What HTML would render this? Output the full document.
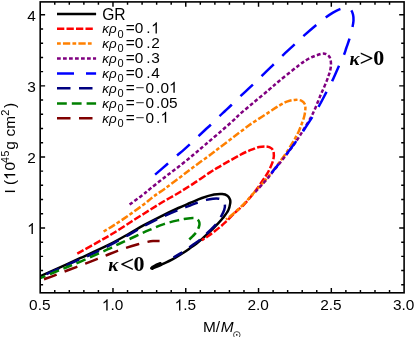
<!DOCTYPE html>
<html><head><meta charset="utf-8"><title>I vs M</title>
<style>
html,body{margin:0;padding:0;background:#fff;}
body{width:415px;height:337px;overflow:hidden;}
svg{display:block;will-change:transform;}
text{font-family:"Liberation Sans",sans-serif;fill:#000;}
.c{fill:none;stroke-width:2.5;stroke-linecap:butt;stroke-linejoin:round;}
.ser{font-family:"Liberation Serif",serif;}
.h{fill:none;}
</style></head><body>
<svg width="415" height="337" viewBox="0 0 415 337">
<rect x="0" y="0" width="415" height="337" fill="#fff"/>
<clipPath id="cp"><rect x="40.20" y="1.90" width="363.90" height="290.90"/></clipPath>
<g clip-path="url(#cp)">
<path class="c" d="M40.20 276.20 C43.50 274.72 53.37 270.30 60.00 267.30 C66.63 264.30 72.00 261.88 80.00 258.20 C88.00 254.52 99.85 249.27 108.00 245.20 C116.15 241.13 123.00 237.10 128.90 233.80 C134.80 230.50 138.22 228.23 143.40 225.40 C148.58 222.57 154.17 219.70 160.00 216.80 C165.83 213.90 173.40 210.30 178.40 208.00 C183.40 205.70 186.07 204.67 190.00 203.00 C193.93 201.33 197.98 199.40 202.00 198.00 C206.02 196.60 210.73 195.25 214.10 194.60 C217.47 193.95 219.98 193.92 222.20 194.10 C224.42 194.28 226.10 194.80 227.40 195.70 C228.70 196.60 229.53 198.22 230.00 199.50 C230.47 200.78 230.48 201.60 230.20 203.40 C229.92 205.20 229.48 207.90 228.30 210.30 C227.12 212.70 224.92 215.48 223.10 217.80 C221.28 220.12 219.50 221.97 217.40 224.20 C215.30 226.43 212.80 228.98 210.50 231.20 C208.20 233.42 205.92 235.45 203.60 237.50 C201.28 239.55 198.77 241.78 196.60 243.50 C194.43 245.22 192.80 246.27 190.60 247.80 C188.40 249.33 186.28 250.85 183.40 252.70 C180.52 254.55 176.92 256.93 173.30 258.90 C169.68 260.87 165.28 262.85 161.70 264.50 C158.12 266.15 153.45 268.08 151.80 268.80" stroke="#000000"/>
<path d="M152.2 268.6 L151.4 268.2 L152.8 266.9 L156.0 265.1 L160.4 263.4" fill="none" stroke="#000" stroke-width="2.8" stroke-linejoin="round" stroke-linecap="round"/>
<path class="c" d="M77.30 253.60 C81.32 251.35 95.20 243.62 101.40 240.10 C107.60 236.58 109.92 235.32 114.50 232.50 C119.08 229.68 125.48 225.40 128.90 223.20 C132.32 221.00 131.57 221.47 135.00 219.30 C138.43 217.13 144.68 213.20 149.50 210.20 C154.32 207.20 159.08 204.17 163.90 201.30 C168.72 198.43 173.48 195.95 178.40 193.00 C183.32 190.05 188.13 187.03 193.40 183.60 C198.67 180.17 205.57 175.28 210.00 172.40 C214.43 169.52 216.67 168.27 220.00 166.30 C223.33 164.33 226.67 162.48 230.00 160.60 C233.33 158.72 237.33 156.43 240.00 155.00 C242.67 153.57 243.93 152.93 246.00 152.00 C248.07 151.07 250.20 150.23 252.40 149.40 C254.60 148.57 256.85 147.48 259.20 147.00 C261.55 146.52 264.45 146.27 266.50 146.50 C268.55 146.73 270.30 147.37 271.50 148.40 C272.70 149.43 273.38 150.88 273.70 152.70 C274.02 154.52 273.88 157.00 273.40 159.30 C272.92 161.60 271.83 164.10 270.80 166.50 C269.77 168.90 268.50 171.45 267.20 173.70 C265.90 175.95 264.67 177.53 263.00 180.00 C261.33 182.47 259.30 185.63 257.20 188.50 C255.10 191.37 252.68 194.45 250.40 197.20 C248.12 199.95 246.07 202.43 243.50 205.00 C240.93 207.57 236.85 210.90 235.00 212.60 C233.15 214.30 233.98 213.60 232.40 215.20 C230.82 216.80 227.58 220.22 225.50 222.20 C223.42 224.18 221.82 225.50 219.90 227.10 C217.98 228.70 215.68 230.48 214.00 231.80 C212.32 233.12 211.22 233.98 209.80 235.00 C208.38 236.02 206.83 237.03 205.50 237.90 C204.17 238.77 202.42 239.82 201.80 240.20" stroke="#ff0000" stroke-dasharray="7.3 2.2"/>
<path class="c" d="M103.60 231.50 C105.42 230.40 110.28 227.62 114.50 224.90 C118.72 222.18 124.08 218.57 128.90 215.20 C133.72 211.83 139.40 207.73 143.40 204.70 C147.40 201.67 149.38 199.63 152.90 197.00 C156.42 194.37 160.17 192.03 164.50 188.90 C168.83 185.77 174.08 181.83 178.90 178.20 C183.72 174.57 188.05 171.08 193.40 167.10 C198.75 163.12 206.65 157.53 211.00 154.30 C215.35 151.07 215.68 150.62 219.50 147.70 C223.32 144.78 229.08 140.45 233.90 136.80 C238.72 133.15 245.07 128.27 248.40 125.80 C251.73 123.33 250.57 124.20 253.90 122.00 C257.23 119.80 264.12 115.37 268.40 112.60 C272.68 109.83 276.40 107.27 279.60 105.40 C282.80 103.53 285.07 102.32 287.60 101.40 C290.13 100.48 292.52 100.03 294.80 99.90 C297.08 99.77 299.62 99.87 301.30 100.60 C302.98 101.33 304.23 102.73 304.90 104.30 C305.57 105.87 305.45 107.83 305.30 110.00 C305.15 112.17 304.63 114.88 304.00 117.30 C303.37 119.72 302.40 122.10 301.50 124.50 C300.60 126.90 299.77 129.20 298.60 131.70 C297.43 134.20 295.93 136.95 294.50 139.50 C293.07 142.05 291.48 144.62 290.00 147.00 C288.52 149.38 287.55 151.00 285.60 153.80 C283.65 156.60 280.63 160.68 278.30 163.80 C275.97 166.92 273.78 169.73 271.60 172.50 C269.42 175.27 267.48 177.75 265.20 180.40 C262.92 183.05 260.32 185.73 257.90 188.40 C255.48 191.07 253.10 193.75 250.70 196.40 C248.30 199.05 246.12 201.65 243.50 204.30 C240.88 206.95 237.92 209.75 235.00 212.30 C232.08 214.85 227.50 218.38 226.00 219.60" stroke="#ff8000" stroke-dasharray="3.75 2.2 7.3 2.2"/>
<path class="c" d="M129.60 204.60 C131.65 203.08 138.50 198.12 141.90 195.50 C145.30 192.88 146.23 191.92 150.00 188.90 C153.77 185.88 159.68 181.13 164.50 177.40 C169.32 173.67 174.08 170.27 178.90 166.50 C183.72 162.73 189.05 158.40 193.40 154.80 C197.75 151.20 200.65 148.60 205.00 144.90 C209.35 141.20 214.68 136.77 219.50 132.60 C224.32 128.43 230.57 122.93 233.90 119.90 C237.23 116.87 236.17 117.33 239.50 114.40 C242.83 111.47 249.08 106.33 253.90 102.30 C258.72 98.27 264.23 93.72 268.40 90.20 C272.57 86.68 274.73 84.63 278.90 81.20 C283.07 77.77 289.88 72.40 293.40 69.60 C296.92 66.80 298.25 65.73 300.00 64.40 C301.75 63.07 302.28 62.63 303.90 61.60 C305.52 60.57 307.77 59.18 309.70 58.20 C311.63 57.22 313.57 56.42 315.50 55.70 C317.43 54.98 319.77 54.23 321.30 53.90 C322.83 53.57 323.70 53.57 324.70 53.70 C325.70 53.83 326.52 54.18 327.30 54.70 C328.08 55.22 328.87 55.98 329.40 56.80 C329.93 57.62 330.23 58.28 330.50 59.60 C330.77 60.92 331.07 62.80 331.00 64.70 C330.93 66.60 330.52 69.15 330.10 71.00 C329.68 72.85 329.07 74.15 328.50 75.80 C327.93 77.45 327.53 78.78 326.70 80.90 C325.87 83.02 324.45 86.30 323.50 88.50 C322.55 90.70 321.90 91.97 321.00 94.10 C320.10 96.23 319.18 98.65 318.10 101.30 C317.02 103.95 315.70 107.33 314.50 110.00 C313.30 112.67 312.55 114.30 310.90 117.30 C309.25 120.30 306.58 124.72 304.60 128.00 C302.62 131.28 301.07 133.83 299.00 137.00 C296.93 140.17 294.33 144.00 292.20 147.00 C290.07 150.00 288.47 152.07 286.20 155.00 C283.93 157.93 280.97 161.63 278.60 164.60 C276.23 167.57 274.17 170.12 272.00 172.80 C269.83 175.48 267.88 178.05 265.60 180.70 C263.32 183.35 260.03 186.82 258.30 188.70 C256.57 190.58 255.72 191.45 255.20 192.00" stroke="#800080" stroke-dasharray="3.75 2.25"/>
<path class="c" d="M155.10 174.60 C157.10 172.87 163.50 167.33 167.10 164.20 C170.70 161.07 173.88 158.23 176.70 155.80 C179.52 153.37 180.95 152.32 184.00 149.60 C187.05 146.88 191.50 142.77 195.00 139.50 C198.50 136.23 202.42 132.42 205.00 130.00 C207.58 127.58 208.08 127.30 210.50 125.00 C212.92 122.70 217.08 118.53 219.50 116.20 C221.92 113.87 223.02 112.87 225.00 111.00 C226.98 109.13 228.87 107.43 231.40 105.00 C233.93 102.57 236.93 99.50 240.20 96.40 C243.47 93.30 247.43 89.78 251.00 86.40 C254.57 83.02 257.90 79.70 261.60 76.10 C265.30 72.50 269.75 68.18 273.20 64.80 C276.65 61.42 278.73 59.20 282.30 55.80 C285.87 52.40 290.95 47.80 294.60 44.40 C298.25 41.00 300.58 38.65 304.20 35.40 C307.82 32.15 312.67 27.92 316.30 24.90 C319.93 21.88 323.22 19.35 326.00 17.30 C328.78 15.25 330.67 13.95 333.00 12.60 C335.33 11.25 337.83 10.00 340.00 9.20 C342.17 8.40 344.25 7.77 346.00 7.80 C347.75 7.83 349.33 8.28 350.50 9.40 C351.67 10.52 352.50 12.65 353.00 14.50 C353.50 16.35 353.60 18.33 353.50 20.50 C353.40 22.67 353.07 24.47 352.40 27.50 C351.73 30.53 350.52 35.28 349.50 38.70 C348.48 42.12 347.20 45.38 346.30 48.00 C345.40 50.62 345.37 51.33 344.10 54.40 C342.83 57.47 340.63 62.07 338.70 66.40 C336.77 70.73 334.60 76.02 332.50 80.40 C330.40 84.78 328.37 88.40 326.10 92.70 C323.83 97.00 321.32 101.95 318.90 106.20 C316.48 110.45 314.25 114.02 311.60 118.20 C308.95 122.38 305.22 127.95 303.00 131.30 C300.78 134.65 301.13 134.37 298.30 138.30 C295.47 142.23 289.38 150.47 286.00 154.90 C282.62 159.33 280.42 161.88 278.00 164.90 C275.58 167.92 272.58 171.65 271.50 173.00" stroke="#0000ff" stroke-dasharray="17 12"/>
<path class="c" d="M40.20 277.00 C43.50 275.53 53.13 271.25 60.00 268.20 C66.87 265.15 74.65 261.73 81.40 258.70 C88.15 255.67 92.58 253.98 100.50 250.00 C108.42 246.02 121.75 238.73 128.90 234.80 C136.05 230.87 138.22 229.22 143.40 226.40 C148.58 223.58 154.17 220.65 160.00 217.90 C165.83 215.15 173.40 211.95 178.40 209.90 C183.40 207.85 186.87 206.80 190.00 205.60 C193.13 204.40 194.48 203.65 197.20 202.70 C199.92 201.75 203.67 200.57 206.30 199.90 C208.93 199.23 210.90 198.90 213.00 198.70 C215.10 198.50 217.27 198.40 218.90 198.70 C220.53 199.00 221.80 199.50 222.80 200.50 C223.80 201.50 224.67 203.12 224.90 204.70 C225.13 206.28 224.80 208.10 224.20 210.00 C223.60 211.90 222.65 213.73 221.30 216.10 C219.95 218.47 218.53 221.28 216.10 224.20 C213.67 227.12 209.47 230.95 206.70 233.60 C203.93 236.25 201.67 238.33 199.50 240.10 C197.33 241.87 195.30 243.05 193.70 244.20 C192.10 245.35 191.75 245.67 189.90 247.00 C188.05 248.33 185.33 250.47 182.60 252.20 C179.87 253.93 175.02 256.53 173.50 257.40" stroke="#000080" stroke-dasharray="13.5 8.5" stroke-dashoffset="-7"/>
<path class="c" d="M40.20 278.20 C43.50 276.83 53.37 272.73 60.00 270.00 C66.63 267.27 72.00 265.27 80.00 261.80 C88.00 258.33 101.53 252.17 108.00 249.20 C114.47 246.23 114.30 246.12 118.80 244.00 C123.30 241.88 129.88 238.85 135.00 236.50 C140.12 234.15 144.68 231.97 149.50 229.90 C154.32 227.83 159.08 225.72 163.90 224.10 C168.72 222.48 174.72 221.08 178.40 220.20 C182.08 219.32 183.57 219.15 186.00 218.80 C188.43 218.45 191.17 218.08 193.00 218.10 C194.83 218.12 195.98 218.28 197.00 218.90 C198.02 219.52 198.70 220.78 199.10 221.80 C199.50 222.82 199.58 223.77 199.40 225.00 C199.22 226.23 198.67 227.80 198.00 229.20 C197.33 230.60 196.85 231.68 195.40 233.40 C193.95 235.12 190.32 238.48 189.30 239.50" stroke="#008000" stroke-dasharray="9.7 4.8" stroke-dashoffset="4.0"/>
<path class="c" d="M44.00 279.20 C45.68 278.60 50.73 276.87 54.10 275.60 C57.47 274.33 60.50 273.02 64.20 271.60 C67.90 270.18 72.77 268.43 76.30 267.10 C79.83 265.77 81.87 264.98 85.40 263.60 C88.93 262.22 94.13 260.13 97.50 258.80 C100.87 257.47 101.85 257.08 105.60 255.60 C109.35 254.12 114.60 251.80 120.00 249.90 C125.40 248.00 133.58 245.50 138.00 244.20 C142.42 242.90 144.00 242.63 146.50 242.10 C149.00 241.57 150.82 241.17 153.00 241.00 C155.18 240.83 158.50 241.08 159.60 241.10" stroke="#800000" stroke-dasharray="13.5 8.5"/>
</g>
<g stroke="#000" fill="none" stroke-linecap="butt">
<rect x="40.20" y="1.90" width="363.90" height="290.90" stroke-width="1.60"/>
<path d="M54.76 292.80v-2.90M54.76 1.90v2.90M69.31 292.80v-2.90M69.31 1.90v2.90M83.87 292.80v-2.90M83.87 1.90v2.90M98.42 292.80v-2.90M98.42 1.90v2.90M112.98 292.80v-4.90M112.98 1.90v4.90M127.54 292.80v-2.90M127.54 1.90v2.90M142.09 292.80v-2.90M142.09 1.90v2.90M156.65 292.80v-2.90M156.65 1.90v2.90M171.20 292.80v-2.90M171.20 1.90v2.90M185.76 292.80v-4.90M185.76 1.90v4.90M200.32 292.80v-2.90M200.32 1.90v2.90M214.87 292.80v-2.90M214.87 1.90v2.90M229.43 292.80v-2.90M229.43 1.90v2.90M243.98 292.80v-2.90M243.98 1.90v2.90M258.54 292.80v-4.90M258.54 1.90v4.90M273.10 292.80v-2.90M273.10 1.90v2.90M287.65 292.80v-2.90M287.65 1.90v2.90M302.21 292.80v-2.90M302.21 1.90v2.90M316.76 292.80v-2.90M316.76 1.90v2.90M331.32 292.80v-4.90M331.32 1.90v4.90M345.88 292.80v-2.90M345.88 1.90v2.90M360.43 292.80v-2.90M360.43 1.90v2.90M374.99 292.80v-2.90M374.99 1.90v2.90M389.54 292.80v-2.90M389.54 1.90v2.90M40.20 284.79h2.90M404.10 284.79h-2.90M40.20 270.58h2.90M404.10 270.58h-2.90M40.20 256.37h2.90M404.10 256.37h-2.90M40.20 242.16h2.90M404.10 242.16h-2.90M40.20 227.95h4.90M404.10 227.95h-4.90M40.20 213.74h2.90M404.10 213.74h-2.90M40.20 199.53h2.90M404.10 199.53h-2.90M40.20 185.32h2.90M404.10 185.32h-2.90M40.20 171.11h2.90M404.10 171.11h-2.90M40.20 156.90h4.90M404.10 156.90h-4.90M40.20 142.69h2.90M404.10 142.69h-2.90M40.20 128.48h2.90M404.10 128.48h-2.90M40.20 114.27h2.90M404.10 114.27h-2.90M40.20 100.06h2.90M404.10 100.06h-2.90M40.20 85.85h4.90M404.10 85.85h-4.90M40.20 71.64h2.90M404.10 71.64h-2.90M40.20 57.43h2.90M404.10 57.43h-2.90M40.20 43.22h2.90M404.10 43.22h-2.90M40.20 29.01h2.90M404.10 29.01h-2.90M40.20 14.80h4.90M404.10 14.80h-4.90" stroke-width="1.45"/>
</g>
<g font-size="15.40" letter-spacing="0.00">
<text x="39.80" y="310.40" text-anchor="middle">0.5</text>
<text x="112.58" y="310.40" text-anchor="middle"><tspan class="h">1</tspan>.0</text>
<text x="185.36" y="310.40" text-anchor="middle"><tspan class="h">1</tspan>.5</text>
<text x="258.14" y="310.40" text-anchor="middle">2.0</text>
<text x="330.92" y="310.40" text-anchor="middle">2.5</text>
<text x="403.70" y="310.40" text-anchor="middle">3.0</text>
<text x="35.70" y="233.95" text-anchor="end"><tspan class="h">1</tspan></text>
<text x="35.70" y="162.90" text-anchor="end">2</text>
<text x="35.70" y="91.85" text-anchor="end">3</text>
<text x="35.70" y="20.80" text-anchor="end">4</text>
</g>
<text x="203.0" y="331.6" font-size="15.4">M/<tspan font-style="italic" dx="0.6">M</tspan></text>
<g fill="none" stroke="#000" stroke-width="0.7"><circle cx="236.8" cy="334.9" r="3.3"/></g><circle cx="236.8" cy="334.9" r="0.8" fill="#000"/>
<text transform="translate(15.2 193.5) rotate(-90)" font-size="15.4">I (<tspan class="h">1</tspan><tspan dx="0.7">0</tspan><tspan font-size="10.6" dy="-6.6" dx="-0.9" letter-spacing="0.5">45</tspan><tspan dy="6.6" dx="0.4">g</tspan><tspan dx="0.3"> cm</tspan><tspan font-size="11" dy="-6.6" dx="0.4">2</tspan><tspan dy="6.6" dx="1.6">)</tspan></text>
<path class="c" d="M57 14.00H96.1" stroke="#000000"/>
<text x="102.2" y="19.80" font-size="15.6">GR</text>
<path class="c" d="M57 28.80H93.3" stroke="#ff0000" stroke-dasharray="7.3 2.2"/>
<text x="102.2" y="33.40" font-size="15.4"><tspan font-style="italic" font-size="13.4">κρ</tspan><tspan font-size="11" dy="4.2" dx="1.0">0</tspan><tspan dy="-4.2" dx="2.1">=0<tspan dx="2.9">.</tspan><tspan dx="0.6"><tspan class="h">1</tspan></tspan></tspan></text>
<path class="c" d="M57 43.50H92.3" stroke="#ff8000" stroke-dasharray="3.75 2.2 7.3 2.2"/>
<text x="102.2" y="48.10" font-size="15.4"><tspan font-style="italic" font-size="13.4">κρ</tspan><tspan font-size="11" dy="4.2" dx="1.0">0</tspan><tspan dy="-4.2" dx="2.1">=0<tspan dx="2.9">.</tspan><tspan dx="0.6">2</tspan></tspan></text>
<path class="c" d="M57 58.60H96.1" stroke="#800080" stroke-dasharray="3.75 2.25"/>
<text x="102.2" y="63.20" font-size="15.4"><tspan font-style="italic" font-size="13.4">κρ</tspan><tspan font-size="11" dy="4.2" dx="1.0">0</tspan><tspan dy="-4.2" dx="2.1">=0<tspan dx="2.9">.</tspan><tspan dx="0.6">3</tspan></tspan></text>
<path class="c" d="M57 73.40H96.1" stroke="#0000ff" stroke-dasharray="17 12"/>
<text x="102.2" y="78.00" font-size="15.4"><tspan font-style="italic" font-size="13.4">κρ</tspan><tspan font-size="11" dy="4.2" dx="1.0">0</tspan><tspan dy="-4.2" dx="2.1">=0<tspan dx="2.9">.</tspan><tspan dx="0.6">4</tspan></tspan></text>
<path class="c" d="M57 88.20H96.1" stroke="#000080" stroke-dasharray="13.5 8.5"/>
<text x="102.2" y="92.80" font-size="15.4"><tspan font-style="italic" font-size="13.4">κρ</tspan><tspan font-size="11" dy="4.2" dx="1.0">0</tspan><tspan dy="-4.2" dx="2.1">=<tspan dx="0.7" fill="#444">−</tspan><tspan dx="1.0">0</tspan><tspan dx="1.9">.</tspan><tspan dx="0.2">0<tspan class="h">1</tspan></tspan></tspan></text>
<path class="c" d="M57 103.40H96.1" stroke="#008000" stroke-dasharray="9.8 5"/>
<text x="102.2" y="108.00" font-size="15.4"><tspan font-style="italic" font-size="13.4">κρ</tspan><tspan font-size="11" dy="4.2" dx="1.0">0</tspan><tspan dy="-4.2" dx="2.1">=<tspan dx="0.7" fill="#444">−</tspan><tspan dx="1.0">0</tspan><tspan dx="1.9">.</tspan><tspan dx="0.2">05</tspan></tspan></text>
<path class="c" d="M57 118.20H96.1" stroke="#800000" stroke-dasharray="13.5 8.5"/>
<text x="102.2" y="122.80" font-size="15.4"><tspan font-style="italic" font-size="13.4">κρ</tspan><tspan font-size="11" dy="4.2" dx="1.0">0</tspan><tspan dy="-4.2" dx="2.1">=<tspan dx="0.7" fill="#444">−</tspan><tspan dx="1.0">0</tspan><tspan dx="1.9">.</tspan><tspan dx="0.2"><tspan class="h">1</tspan></tspan></tspan></text>
<g font-weight="bold"><text class="ser" x="349.60" y="64.70" font-size="19" font-style="italic">κ</text><text class="ser" transform="translate(359.60 66.05) scale(1 0.89)" font-size="25">&gt;</text><text class="ser" x="373.30" y="64.70" font-size="22">0</text></g>
<g font-weight="bold"><text class="ser" x="108.30" y="270.80" font-size="19" font-style="italic">κ</text><text class="ser" transform="translate(120.00 272.15) scale(1 0.89)" font-size="25">&lt;</text><text class="ser" x="133.60" y="270.80" font-size="22">0</text></g>
<g fill="#000"><path d="M763 0H583V1147Q518 1085 412.5 1023T223 930V1104Q374 1175 487 1276T647 1472H763Z" transform="translate(101.88 310.40) scale(0.00752 -0.00752)"/><path d="M763 0H583V1147Q518 1085 412.5 1023T223 930V1104Q374 1175 487 1276T647 1472H763Z" transform="translate(174.66 310.40) scale(0.00752 -0.00752)"/><path d="M763 0H583V1147Q518 1085 412.5 1023T223 930V1104Q374 1175 487 1276T647 1472H763Z" transform="translate(27.14 233.95) scale(0.00752 -0.00752)"/><path d="M763 0H583V1147Q518 1085 412.5 1023T223 930V1104Q374 1175 487 1276T647 1472H763Z" transform="translate(15.2 193.5) rotate(-90) translate(13.69 0.00) scale(0.00752 -0.00752)"/><path d="M763 0H583V1147Q518 1085 412.5 1023T223 930V1104Q374 1175 487 1276T647 1472H763Z" transform="translate(151.14 33.40) scale(0.00752 -0.00752)"/><path d="M763 0H583V1147Q518 1085 412.5 1023T223 930V1104Q374 1175 487 1276T647 1472H763Z" transform="translate(169.01 92.80) scale(0.00752 -0.00752)"/><path d="M763 0H583V1147Q518 1085 412.5 1023T223 930V1104Q374 1175 487 1276T647 1472H763Z" transform="translate(160.44 122.80) scale(0.00752 -0.00752)"/></g>
</svg></body></html>
